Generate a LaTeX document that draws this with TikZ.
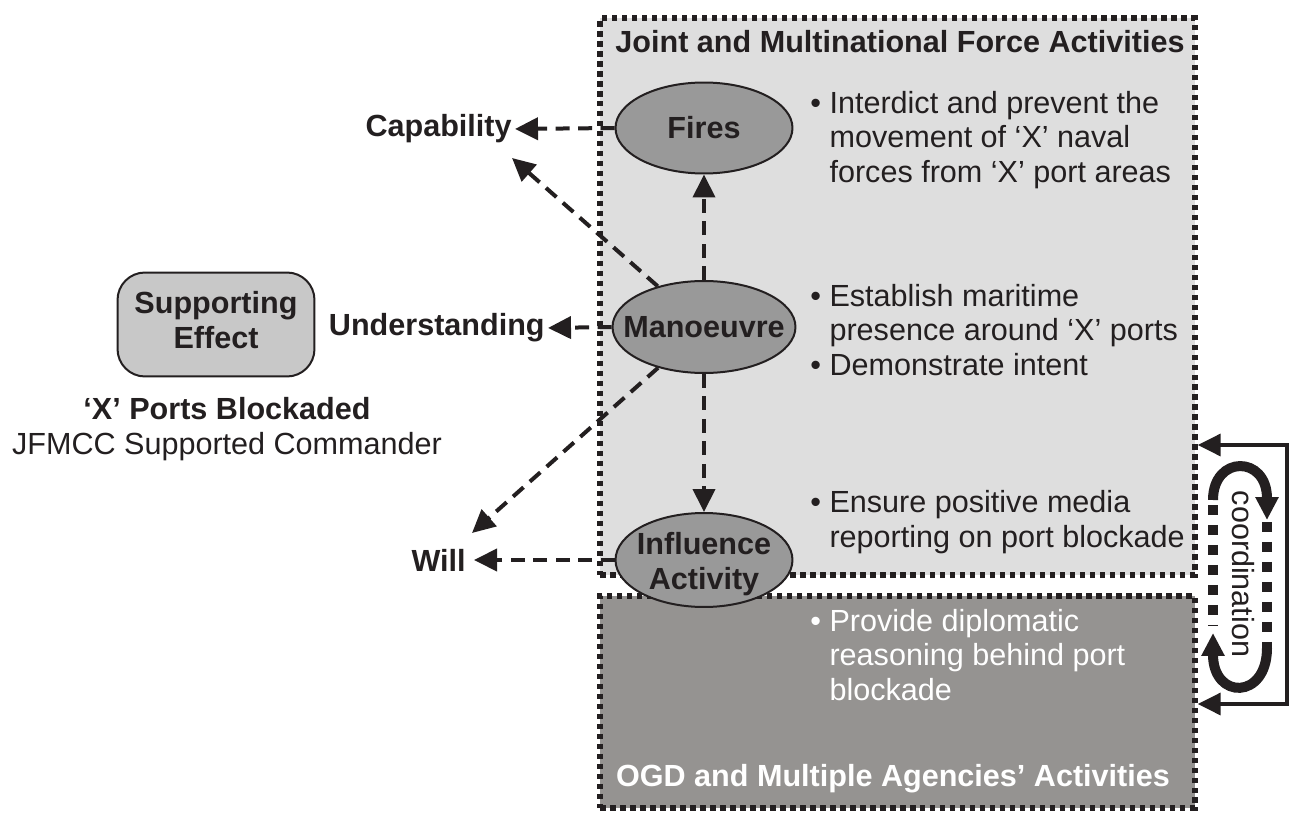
\documentclass[tikz,border=0pt]{standalone}
\usepackage{fontspec}
\setmainfont{Liberation Sans}
\usetikzlibrary{arrows.meta,shapes.geometric}
\definecolor{ink}{HTML}{231F20}
\definecolor{jmfgray}{HTML}{DEDEDE}
\definecolor{ogdgray}{HTML}{959391}
\definecolor{actgray}{HTML}{999999}
\definecolor{effgray}{HTML}{C8C8C8}
\begin{document}
\begin{tikzpicture}[x=0.02cm, y=-0.02cm,
  every node/.style = {font=\fontsize{17.4pt}{19.8pt}\selectfont, text=ink, inner sep=0pt},
  lbl/.style = {font=\fontsize{17.4pt}{19.8pt}\selectfont\bfseries},
  zone/.style = {draw=ink, line width=0.11cm, dash pattern=on 0.11cm off 0.09cm, minimum width=11.9cm},
  act/.style = {ellipse, draw=ink, line width=0.04cm, fill=actgray, minimum width=3.54cm, minimum height=1.82cm},
  notes/.style = {anchor=west, align=left},
  head/.tip = {Triangle[length=0.46cm, width=0.44cm]},
  link/.style = {draw=ink, line width=0.08cm, dash pattern=on 0.28cm off 0.17cm, -head, shorten >=0.06cm},
  coord/.style = {draw=ink, line width=0.2cm}]
  \useasboundingbox (0,0) rectangle (1295,814);

  \node[zone, fill=jmfgray, minimum height=11.14cm] (jmf) at (897.5,296.5) {};
  \node[zone, fill=ogdgray, minimum height=4.24cm] (ogd) at (897.5,702) {};
  \node[lbl] (jmftitle) at (900,42) {Joint and Multinational Force Activities};
  \node[lbl, text=white] (ogdtitle) at (893,779) {OGD and Multiple Agencies’ Activities};

  \node[act, label={[lbl]center:Fires}] (fires) at (704,128) {};
  \node[act, minimum width=3.66cm, minimum height=1.84cm, label={[lbl]center:Manoeuvre}] (man) at (704,327) {};
  \node[act, minimum height=1.88cm, label={[lbl, align=center, yshift=-0.08cm]center:Influence\\Activity}] (infl) at (704,560) {};

  \node[notes] (firesnote) at (810,140) {•~Interdict and prevent the\\\phantom{•~}movement of ‘X’ naval\\\phantom{•~}forces from ‘X’ port areas};
  \node[notes] (mannote) at (810,330) {•~Establish maritime\\\phantom{•~}presence around ‘X’ ports\\•~Demonstrate intent};
  \node[notes] (inflnote) at (810,522) {•~Ensure positive media\\\phantom{•~}reporting on port blockade};
  \node[notes, text=white] (ogdnote) at (810,655) {•~Provide diplomatic\\\phantom{•~}reasoning behind port\\\phantom{•~}blockade};

  \node[lbl, anchor=east] (cap) at (512,129) {Capability};
  \node[lbl, anchor=east] (und) at (545,328) {Understanding};
  \node[lbl, anchor=east] (will) at (466,560) {Will};
  \coordinate (captip) at (512,158);
  \coordinate (willtip) at (472,533);

  \node[draw=ink, line width=0.04cm, fill=effgray, rounded corners=0.55cm, minimum width=3.94cm, minimum height=2.08cm, text depth=0.18cm, lbl, align=center] (eff) at (216,324.5) {Supporting\\Effect};
  \node[align=center] (effnote) at (227,429) {\bfseries ‘X’ Ports Blockaded\\JFMCC Supported Commander};

  \draw[link] (fires.west) -- (cap.east);
  \draw[link] (man.west) -- (und.east);
  \draw[link, shorten >=0.16cm] (infl.west) -- (will.east);
  \draw[link, shorten >=0cm] (man) -- (captip);
  \draw[link, shorten >=0cm] (man) -- (willtip);
  \draw[link, shorten >=0cm] (man) -- (fires);
  \draw[link, shorten >=0cm] (man) -- (infl);

  \coordinate (cnorth) at (1287,445);
  \coordinate (csouth) at (1287,704);
  \draw[draw=ink, line width=0.07cm, head-head] (jmf.east |- cnorth) -- (cnorth) -- (csouth) -- (ogd.east |- csouth);
  \draw[coord, dash pattern=on 0.2cm off 0.2cm] (1213,505) -- (1213,625);
  \draw[coord, dash pattern=on 0.2cm off 0.2cm] (1267,522) -- (1267,650);
  \draw[coord, -head] (1213,500) .. controls (1213,455) and (1267,455) .. (1267,520);
  \draw[coord, -head] (1267,648) .. controls (1267,700) and (1213,700) .. (1213,633);
  \node[rotate=-90] (coordtxt) at (1243,574) {coordination};
\end{tikzpicture}
\end{document}
